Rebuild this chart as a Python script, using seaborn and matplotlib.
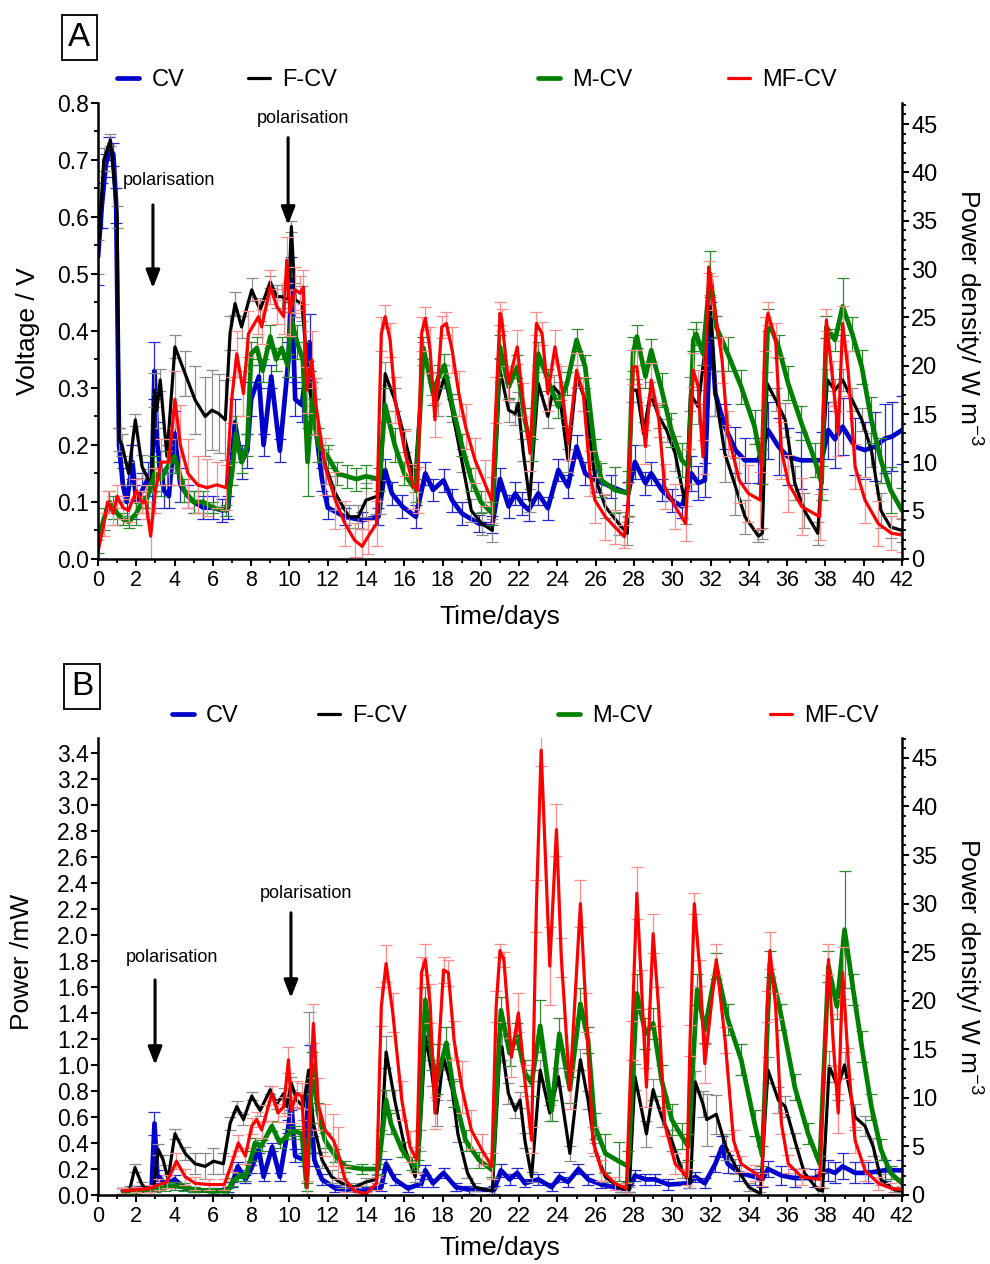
import matplotlib
matplotlib.use("Agg")
import matplotlib.pyplot as plt
import seaborn as sns
from matplotlib.ticker import MultipleLocator

# ---------------- Panel A : voltage (V) ----------------
cv_a_t = [0, 0.2, 0.4, 0.6, 0.8, 0.95, 1.1, 1.3, 1.5, 1.8,
          2.0, 2.3, 2.6, 2.8, 2.95, 3.1, 3.25, 3.45, 3.7, 4.0,
          4.3, 4.7, 5.0, 5.5, 6.0, 6.5, 6.8, 7.15, 7.5, 7.8,
          8.0, 8.4, 8.65, 9.05, 9.5, 9.95, 10.1, 10.3, 10.65, 11.05,
          11.3, 11.7, 12.0, 12.9, 13.8, 14.65, 15.0, 15.35, 15.9, 16.6,
          17.1, 17.5, 18.05, 18.5, 19.0, 19.9, 20.6, 21.0, 21.45, 21.8,
          22.15, 22.5, 23.0, 23.5, 24.05, 24.55, 25.0, 25.45, 26.0, 26.8,
          27.7, 28.05, 28.6, 28.9, 29.45, 30.0, 30.5, 31.0, 31.35, 31.7,
          32.0, 32.25, 32.75, 33.3, 33.8, 34.5, 35.0, 35.55, 36.05, 36.75,
          37.8, 38.15, 38.5, 38.9, 39.55, 40.05, 40.6, 41.1, 41.5, 42.0]
cv_a_v = [0.53, 0.62, 0.69, 0.72, 0.71, 0.62, 0.20, 0.13, 0.10, 0.17,
          0.10, 0.12, 0.14, 0.12, 0.33, 0.20, 0.16, 0.12, 0.11, 0.22,
          0.13, 0.11, 0.10, 0.09, 0.09, 0.085, 0.09, 0.24, 0.17, 0.19,
          0.28, 0.32, 0.20, 0.32, 0.19, 0.35, 0.49, 0.28, 0.27, 0.38,
          0.25, 0.14, 0.09, 0.074, 0.068, 0.074, 0.156, 0.115, 0.092, 0.074,
          0.15, 0.121, 0.138, 0.103, 0.08, 0.062, 0.06, 0.14, 0.092, 0.115,
          0.097, 0.086, 0.115, 0.089, 0.156, 0.127, 0.197, 0.15, 0.138, 0.127,
          0.115, 0.17, 0.133, 0.15, 0.121, 0.103, 0.092, 0.15, 0.133, 0.138,
          0.42, 0.29, 0.232, 0.191, 0.173, 0.173, 0.226, 0.197, 0.179, 0.173,
          0.173, 0.226, 0.21, 0.232, 0.197, 0.191, 0.197, 0.211, 0.215, 0.226]
cv_a_e = [0.05, 0.04, 0.02, 0.02, 0.02, 0.03, 0.03, 0.03, 0.03, 0.03,
          0.03, 0.03, 0.03, 0.03, 0.05, 0.04, 0.03, 0.03, 0.02, 0.04,
          0.03, 0.02, 0.02, 0.02, 0.02, 0.02, 0.02, 0.04, 0.03, 0.03,
          0.03, 0.02, 0.02, 0.02, 0.02, 0.03, 0.04, 0.03, 0.03, 0.05,
          0.03, 0.02, 0.02, 0.015, 0.015, 0.015, 0.02, 0.02, 0.02, 0.02,
          0.02, 0.02, 0.02, 0.02, 0.02, 0.015, 0.015, 0.02, 0.02, 0.02,
          0.02, 0.02, 0.02, 0.02, 0.02, 0.02, 0.02, 0.02, 0.02, 0.02,
          0.02, 0.03, 0.02, 0.02, 0.02, 0.02, 0.02, 0.03, 0.03, 0.03,
          0.03, 0.04, 0.04, 0.04, 0.04, 0.04, 0.05, 0.05, 0.05, 0.05,
          0.05, 0.05, 0.05, 0.05, 0.05, 0.05, 0.06, 0.06, 0.06, 0.06]

fcv_a_t = [0, 0.3, 0.65, 1.0, 1.1, 1.25, 1.6, 1.95, 2.3, 2.65,
           2.8, 2.95, 3.07, 3.25, 3.6, 4.02, 4.55, 5.07, 5.6, 5.95,
           6.3, 6.65, 6.9, 7.16, 7.5, 8.03, 8.47, 9.0, 9.34, 9.6,
           9.95, 10.1, 10.3, 10.65, 11.0, 11.3, 11.9, 12.4, 13.1, 13.6,
           14.0, 14.5, 14.75, 15.0, 15.5, 16.05, 16.55, 17.0, 17.45, 17.75,
           18.1, 18.5, 19.0, 19.5, 20.05, 20.6, 21.0, 21.45, 21.8, 21.95,
           22.2, 22.55, 23.0, 23.5, 23.8, 24.1, 24.55, 25.0, 25.45, 25.95,
           26.5, 27.2, 27.65, 27.9, 28.15, 28.5, 28.85, 29.3, 29.7, 30.15,
           30.7, 30.95, 31.35, 31.98, 32.25, 32.75, 33.3, 33.8, 34.5, 34.7,
           34.95, 35.4, 35.9, 36.4, 36.9, 37.6, 38.1, 38.5, 38.9, 39.4,
           39.9, 40.4, 40.9, 41.4, 42.0]
fcv_a_v = [0.53, 0.70, 0.735, 0.60, 0.21, 0.20, 0.15, 0.244, 0.162, 0.138,
           0.138, 0.296, 0.26, 0.314, 0.18, 0.372, 0.325, 0.279, 0.25, 0.261,
           0.255, 0.244, 0.396, 0.448, 0.407, 0.472, 0.437, 0.486, 0.46, 0.46,
           0.454, 0.583, 0.454, 0.448, 0.308, 0.25, 0.162, 0.115, 0.074, 0.074,
           0.103, 0.109, 0.109, 0.325, 0.279, 0.208, 0.138, 0.36, 0.308, 0.28,
           0.32, 0.26, 0.173, 0.085, 0.062, 0.05, 0.331, 0.261, 0.255, 0.273,
           0.191, 0.103, 0.308, 0.25, 0.302, 0.29, 0.173, 0.32, 0.279, 0.144,
           0.092, 0.062, 0.045, 0.296, 0.296, 0.22, 0.29, 0.25, 0.226, 0.185,
           0.092, 0.29, 0.267, 0.443, 0.29, 0.185, 0.127, 0.074, 0.04, 0.045,
           0.308, 0.279, 0.244, 0.133, 0.085, 0.045, 0.314, 0.296, 0.314, 0.279,
           0.244, 0.191, 0.085, 0.056, 0.05]
fcv_a_e = [0.03, 0.02, 0.01, 0.02, 0.02, 0.02, 0.02, 0.01, 0.02, 0.02,
           0.02, 0.03, 0.03, 0.02, 0.02, 0.02, 0.04, 0.06, 0.07, 0.07,
           0.07, 0.07, 0.03, 0.02, 0.02, 0.02, 0.02, 0.01, 0.02, 0.02,
           0.02, 0.01, 0.03, 0.03, 0.04, 0.03, 0.03, 0.03, 0.02, 0.02,
           0.03, 0.03, 0.03, 0.02, 0.02, 0.02, 0.02, 0.02, 0.02, 0.03,
           0.02, 0.02, 0.02, 0.02, 0.02, 0.02, 0.02, 0.02, 0.02, 0.02,
           0.02, 0.02, 0.02, 0.02, 0.02, 0.02, 0.02, 0.02, 0.02, 0.02,
           0.02, 0.02, 0.02, 0.02, 0.02, 0.02, 0.02, 0.02, 0.02, 0.03,
           0.03, 0.03, 0.03, 0.02, 0.04, 0.05, 0.05, 0.03, 0.01, 0.01,
           0.02, 0.02, 0.03, 0.03, 0.03, 0.02, 0.02, 0.02, 0.02, 0.02,
           0.02, 0.03, 0.03, 0.02, 0.02]

mcv_a_t = [0, 0.3, 0.6, 0.8, 1.0, 1.3, 1.6, 2.0, 2.3, 2.6,
           2.95, 3.3, 3.6, 4.0, 4.5, 5.0, 5.5, 6.0, 6.7, 7.0,
           7.2, 7.5, 7.8, 8.0, 8.3, 8.6, 9.0, 9.3, 9.6, 9.9,
           10.1, 10.4, 10.7, 10.95, 11.2, 11.5, 12.0, 12.5, 13.0, 13.5,
           14.0, 14.7, 15.0, 15.5, 16.0, 16.6, 17.0, 17.5, 17.8, 18.1,
           18.5, 19.0, 19.5, 20.0, 20.6, 21.0, 21.45, 21.9, 22.3, 22.65,
           23.0, 23.5, 24.05, 24.5, 25.0, 25.45, 25.95, 26.3, 27.0, 27.7,
           27.95, 28.15, 28.6, 28.9, 29.45, 29.95, 30.5, 30.85, 31.1, 31.25,
           31.6, 31.98, 32.3, 32.9, 33.6, 34.3, 34.7, 35.0, 35.55, 36.05,
           36.75, 37.45, 37.8, 38.05, 38.5, 38.9, 39.4, 39.9, 40.4, 40.9,
           41.4, 42.0]
mcv_a_v = [0.03, 0.07, 0.10, 0.09, 0.08, 0.07, 0.065, 0.08, 0.10, 0.11,
           0.15, 0.14, 0.16, 0.18, 0.12, 0.10, 0.10, 0.09, 0.085, 0.15,
           0.22, 0.17, 0.2, 0.36, 0.37, 0.33, 0.39, 0.35, 0.37, 0.34,
           0.42, 0.38, 0.35, 0.17, 0.28, 0.2, 0.18, 0.15, 0.145, 0.14,
           0.145, 0.14, 0.27, 0.2, 0.15, 0.12, 0.37, 0.29, 0.32, 0.34,
           0.27, 0.2, 0.14, 0.10, 0.08, 0.372, 0.302, 0.337, 0.244, 0.191,
           0.36, 0.314, 0.267, 0.308, 0.384, 0.337, 0.191, 0.138, 0.121, 0.115,
           0.36, 0.39, 0.32, 0.366, 0.296, 0.226, 0.173, 0.162, 0.384, 0.395,
           0.36, 0.5, 0.407, 0.36, 0.302, 0.232, 0.162, 0.419, 0.372, 0.308,
           0.238, 0.173, 0.133, 0.407, 0.384, 0.443, 0.395, 0.337, 0.244, 0.173,
           0.121, 0.085]
mcv_a_e = [0.02, 0.02, 0.02, 0.02, 0.02, 0.01, 0.01, 0.02, 0.02, 0.02,
           0.03, 0.03, 0.03, 0.03, 0.02, 0.02, 0.02, 0.01, 0.01, 0.02,
           0.03, 0.02, 0.02, 0.02, 0.02, 0.02, 0.02, 0.02, 0.02, 0.02,
           0.03, 0.03, 0.03, 0.06, 0.03, 0.03, 0.02, 0.02, 0.02, 0.02,
           0.02, 0.02, 0.03, 0.03, 0.02, 0.02, 0.02, 0.02, 0.02, 0.02,
           0.02, 0.02, 0.02, 0.02, 0.02, 0.02, 0.02, 0.02, 0.02, 0.02,
           0.02, 0.02, 0.02, 0.02, 0.02, 0.02, 0.02, 0.03, 0.04, 0.04,
           0.03, 0.02, 0.02, 0.02, 0.03, 0.03, 0.03, 0.03, 0.02, 0.02,
           0.02, 0.04, 0.02, 0.03, 0.03, 0.03, 0.03, 0.02, 0.02, 0.03,
           0.03, 0.03, 0.03, 0.02, 0.02, 0.05, 0.03, 0.03, 0.04, 0.04,
           0.04, 0.04]

mfcv_a_t = [0, 0.3, 0.5, 0.8, 1.0, 1.3, 1.6, 2.0, 2.3, 2.5,
            2.75, 3.0, 3.3, 3.7, 4.02, 4.3, 4.7, 5.2, 5.7, 6.2,
            6.7, 6.98, 7.25, 7.6, 7.86, 8.38, 8.55, 9.0, 9.34, 9.7,
            9.86, 10.03, 10.3, 10.56, 10.73, 10.9, 11.17, 11.4, 11.86, 12.4,
            12.9, 13.4, 13.8, 14.1, 14.55, 14.8, 15.0, 15.26, 15.52, 16.05,
            16.48, 16.7, 16.9, 17.1, 17.35, 17.6, 17.96, 18.2, 18.5, 18.85,
            19.2, 19.7, 20.2, 20.57, 20.8, 21.0, 21.1, 21.44, 21.9, 22.2,
            22.57, 22.9, 23.2, 23.5, 23.87, 24.2, 24.57, 25.0, 25.35, 25.7,
            25.96, 26.5, 27.0, 27.5, 27.7, 27.95, 28.15, 28.6, 28.9, 29.3,
            29.6, 30.15, 30.7, 30.84, 31.1, 31.35, 31.6, 31.9, 32.1, 32.6,
            32.9, 33.5, 33.97, 34.6, 34.85, 35.0, 35.4, 35.7, 36.06, 36.76,
            37.7, 38.05, 38.4, 38.67, 38.9, 39.2, 39.55, 40.07, 40.76, 41.45,
            42.0]
mfcv_a_v = [0.013, 0.06, 0.10, 0.08, 0.11, 0.09, 0.085, 0.12, 0.10, 0.10,
            0.04, 0.12, 0.17, 0.17, 0.28, 0.2, 0.15, 0.13, 0.125, 0.13,
            0.125, 0.279, 0.36, 0.29, 0.395, 0.425, 0.407, 0.477, 0.443, 0.425,
            0.524, 0.431, 0.472, 0.466, 0.477, 0.296, 0.349, 0.267, 0.162, 0.103,
            0.062, 0.033, 0.022, 0.039, 0.062, 0.395, 0.425, 0.384, 0.279, 0.185,
            0.127, 0.121, 0.395, 0.422, 0.366, 0.244, 0.407, 0.413, 0.366, 0.29,
            0.232, 0.173, 0.133, 0.103, 0.279, 0.431, 0.419, 0.308, 0.372, 0.279,
            0.185, 0.413, 0.395, 0.29, 0.372, 0.308, 0.203, 0.331, 0.29, 0.15,
            0.103, 0.074, 0.056, 0.039, 0.103, 0.337, 0.337, 0.197, 0.314, 0.244,
            0.127, 0.092, 0.062, 0.162, 0.331, 0.302, 0.179, 0.512, 0.466, 0.349,
            0.22, 0.138, 0.115, 0.103, 0.395, 0.431, 0.384, 0.191, 0.133, 0.092,
            0.074, 0.419, 0.308, 0.22, 0.413, 0.325, 0.162, 0.103, 0.062, 0.045,
            0.042]
mfcv_a_e = [0.02, 0.02, 0.02, 0.02, 0.02, 0.02, 0.02, 0.02, 0.02, 0.03,
            0.06, 0.04, 0.04, 0.04, 0.05, 0.07, 0.06, 0.05, 0.05, 0.04,
            0.04, 0.04, 0.04, 0.04, 0.04, 0.03, 0.03, 0.03, 0.03, 0.03,
            0.04, 0.04, 0.04, 0.03, 0.03, 0.04, 0.05, 0.05, 0.05, 0.05,
            0.04, 0.03, 0.03, 0.03, 0.04, 0.03, 0.02, 0.03, 0.04, 0.04,
            0.04, 0.04, 0.03, 0.02, 0.04, 0.03, 0.02, 0.02, 0.04, 0.04,
            0.04, 0.04, 0.04, 0.04, 0.04, 0.02, 0.02, 0.03, 0.03, 0.03,
            0.03, 0.02, 0.02, 0.03, 0.03, 0.03, 0.03, 0.03, 0.03, 0.04,
            0.04, 0.04, 0.03, 0.02, 0.03, 0.03, 0.03, 0.03, 0.03, 0.03,
            0.04, 0.04, 0.03, 0.03, 0.03, 0.03, 0.03, 0.01, 0.03, 0.04,
            0.04, 0.04, 0.05, 0.05, 0.03, 0.02, 0.03, 0.05, 0.05, 0.05,
            0.04, 0.02, 0.04, 0.04, 0.03, 0.04, 0.04, 0.04, 0.04, 0.03,
            0.03]

# ---------------- Panel B : power (mW) ----------------
cv_b_t = [1.3, 2.0, 2.5, 2.8, 2.95, 3.1, 3.3, 3.6, 4.0, 4.5,
          5.0, 6.0, 6.8, 7.0, 7.3, 7.7, 8.0, 8.4, 8.65, 9.1,
          9.5, 9.95, 10.1, 10.3, 10.75, 11.05, 11.3, 11.7, 12.4, 13.8,
          14.8, 15.05, 15.5, 16.2, 16.9, 17.1, 17.5, 18.05, 18.7, 19.4,
          20.7, 21.05, 21.5, 21.9, 22.3, 23.0, 23.7, 24.1, 24.55, 25.1,
          25.6, 26.3, 27.3, 27.75, 28.05, 28.6, 29.1, 29.8, 30.85, 31.2,
          31.7, 32.25, 32.6, 32.9, 33.5, 34.3, 34.7, 35.0, 35.7, 36.4,
          37.45, 38.15, 38.5, 38.9, 39.55, 40.2, 41.1, 42.0]
cv_b_p = [0.03, 0.05, 0.04, 0.05, 0.55, 0.15, 0.12, 0.08, 0.12, 0.06,
          0.04, 0.03, 0.04, 0.08, 0.22, 0.12, 0.2, 0.35, 0.14, 0.37,
          0.14, 0.53, 0.7, 0.3, 0.27, 0.85, 0.27, 0.12, 0.05, 0.03,
          0.06, 0.24, 0.12, 0.05, 0.09, 0.19, 0.09, 0.17, 0.06, 0.04,
          0.04, 0.19, 0.12, 0.17, 0.09, 0.12, 0.06, 0.14, 0.10, 0.2,
          0.12, 0.08, 0.05, 0.05, 0.15, 0.12, 0.12, 0.08, 0.09, 0.14,
          0.09, 0.24, 0.37, 0.24, 0.17, 0.14, 0.12, 0.2, 0.15, 0.13,
          0.13, 0.19, 0.17, 0.22, 0.17, 0.17, 0.19, 0.19]
cv_b_e = [0.02, 0.02, 0.02, 0.02, 0.09, 0.04, 0.03, 0.03, 0.03, 0.02,
          0.02, 0.02, 0.02, 0.02, 0.03, 0.03, 0.03, 0.03, 0.03, 0.03,
          0.03, 0.05, 0.05, 0.05, 0.05, 0.3, 0.05, 0.04, 0.03, 0.03,
          0.03, 0.04, 0.04, 0.03, 0.03, 0.04, 0.03, 0.04, 0.03, 0.03,
          0.03, 0.05, 0.04, 0.04, 0.03, 0.04, 0.03, 0.04, 0.04, 0.04,
          0.04, 0.03, 0.03, 0.03, 0.04, 0.04, 0.04, 0.04, 0.04, 0.04,
          0.04, 0.06, 0.08, 0.07, 0.06, 0.06, 0.06, 0.06, 0.07, 0.07,
          0.07, 0.08, 0.08, 0.1, 0.08, 0.08, 0.08, 0.08]

fcv_b_t = [1.3, 1.67, 1.93, 2.3, 2.63, 2.9, 3.15, 3.4, 3.66, 4.02,
           4.55, 5.07, 5.6, 6.03, 6.55, 6.9, 7.25, 7.6, 8.03, 8.47,
           9.0, 9.34, 9.7, 9.86, 10.1, 10.38, 10.73, 11.0, 11.25, 11.7,
           12.2, 12.73, 13.4, 14.0, 14.55, 14.8, 15.05, 15.5, 16.05, 16.57,
           16.8, 17.1, 17.44, 17.7, 18.05, 18.5, 18.8, 19.3, 19.7, 20.6,
           21.0, 21.1, 21.44, 21.8, 22.05, 22.3, 22.65, 23.1, 23.6, 24.05,
           24.65, 25.2, 25.6, 25.96, 26.5, 27.3, 27.75, 28.05, 28.65, 29.0,
           29.45, 29.97, 30.5, 30.95, 31.2, 31.6, 31.8, 32.3, 32.8, 33.3,
           34.0, 34.6, 35.0, 35.54, 35.9, 36.4, 36.9, 37.6, 37.85, 38.2,
           38.65, 39.0, 39.55, 40.07, 40.5, 40.9, 41.6, 42.0]
fcv_b_p = [0.03, 0.05, 0.21, 0.08, 0.04, 0.04, 0.35, 0.27, 0.12, 0.47,
           0.32, 0.24, 0.22, 0.26, 0.24, 0.55, 0.68, 0.58, 0.76, 0.65,
           0.81, 0.7, 0.78, 0.68, 0.86, 0.73, 0.68, 0.96, 0.55, 0.27,
           0.14, 0.09, 0.06, 0.1, 0.12, 0.42, 1.1, 0.73, 0.35, 0.14,
           0.42, 1.22, 0.94, 0.63, 1.06, 0.81, 0.47, 0.17, 0.06, 0.03,
           1.12, 1.14, 0.78, 0.65, 0.73, 0.42, 0.14, 0.96, 0.63, 0.91,
           0.32, 1.04, 0.73, 0.35, 0.14, 0.05, 0.04, 0.91, 0.47, 0.81,
           0.6, 0.42, 0.19, 0.09, 0.87, 0.7, 0.58, 0.62, 0.37, 0.22,
           0.06, 0.01, 0.96, 0.73, 0.68, 0.42, 0.17, 0.04, 0.03, 0.99,
           0.83, 1.0, 0.6, 0.53, 0.37, 0.12, 0.04, 0.03]
fcv_b_e = [0.02, 0.02, 0.03, 0.02, 0.02, 0.02, 0.04, 0.04, 0.03, 0.04,
           0.05, 0.08, 0.1, 0.1, 0.08, 0.05, 0.04, 0.04, 0.03, 0.04,
           0.03, 0.04, 0.04, 0.05, 0.05, 0.06, 0.1, 0.45, 0.1, 0.06,
           0.05, 0.04, 0.03, 0.03, 0.03, 0.08, 0.12, 0.08, 0.06, 0.04,
           0.08, 0.1, 0.1, 0.1, 0.1, 0.08, 0.06, 0.04, 0.03, 0.02,
           0.1, 0.1, 0.08, 0.06, 0.06, 0.06, 0.04, 0.08, 0.06, 0.07,
           0.06, 0.08, 0.07, 0.05, 0.04, 0.03, 0.02, 0.1, 0.1, 0.08,
           0.08, 0.08, 0.06, 0.04, 0.08, 0.1, 0.2, 0.15, 0.1, 0.06,
           0.03, 0.01, 0.1, 0.1, 0.08, 0.06, 0.04, 0.03, 0.02, 0.12,
           0.1, 0.1, 0.1, 0.08, 0.07, 0.04, 0.02, 0.02]

mcv_b_t = [1.3, 2.0, 3.0, 3.5, 4.0, 4.5, 5.0, 6.0, 6.8, 7.0,
           7.33, 7.7, 8.03, 8.2, 8.55, 9.08, 9.5, 9.95, 10.3, 10.65,
           10.9, 11.2, 11.5, 11.86, 12.4, 12.9, 13.8, 14.65, 15.05, 15.3,
           15.87, 16.4, 16.7, 17.1, 17.44, 17.7, 18.2, 18.6, 19.2, 19.9,
           20.6, 21.05, 21.5, 21.9, 22.3, 22.65, 23.1, 23.7, 24.1, 24.65,
           25.2, 25.6, 25.96, 26.5, 27.2, 27.7, 28.15, 28.6, 29.0, 29.45,
           29.97, 30.5, 30.84, 31.3, 31.7, 32.3, 32.9, 33.6, 34.3, 34.7,
           35.1, 35.7, 36.4, 37.1, 37.7, 38.16, 38.6, 39.0, 39.45, 39.9,
           40.4, 40.9, 41.4, 42.0]
mcv_b_p = [0.03, 0.03, 0.04, 0.06, 0.07, 0.06, 0.04, 0.03, 0.03, 0.1,
           0.14, 0.14, 0.3, 0.4, 0.38, 0.53, 0.4, 0.47, 0.49, 0.47,
           0.06, 1.0, 0.63, 0.42, 0.3, 0.22, 0.2, 0.2, 0.73, 0.55,
           0.35, 0.24, 0.22, 1.5, 1.06, 0.88, 1.17, 0.78, 0.42, 0.27,
           0.19, 1.42, 1.09, 1.22, 0.94, 0.86, 1.3, 0.65, 1.24, 0.81,
           1.47, 1.19, 0.53, 0.32, 0.26, 0.22, 1.55, 1.24, 1.32, 0.88,
           0.58, 0.45, 0.37, 1.58, 1.27, 1.76, 1.35, 1.04, 0.55, 0.3,
           1.78, 1.37, 0.83, 0.47, 0.24, 1.76, 1.45, 2.04, 1.58, 1.14,
           0.68, 0.35, 0.17, 0.09]
mcv_b_e = [0.02, 0.02, 0.02, 0.03, 0.03, 0.03, 0.02, 0.02, 0.02, 0.03,
           0.03, 0.03, 0.04, 0.04, 0.04, 0.04, 0.04, 0.04, 0.04, 0.04,
           0.03, 0.1, 0.08, 0.06, 0.05, 0.04, 0.04, 0.04, 0.08, 0.08,
           0.06, 0.05, 0.05, 0.1, 0.1, 0.1, 0.12, 0.1, 0.08, 0.06,
           0.05, 0.1, 0.1, 0.1, 0.1, 0.1, 0.2, 0.08, 0.12, 0.1,
           0.12, 0.1, 0.1, 0.15, 0.15, 0.12, 0.15, 0.12, 0.12, 0.12,
           0.12, 0.1, 0.1, 0.12, 0.1, 0.1, 0.12, 0.12, 0.1, 0.08,
           0.1, 0.1, 0.1, 0.08, 0.06, 0.12, 0.1, 0.45, 0.12, 0.12,
           0.1, 0.08, 0.05, 0.04]

mfcv_b_t = [1.3, 2.0, 2.7, 3.2, 3.6, 4.1, 4.55, 5.07, 5.8, 6.6,
            6.98, 7.33, 7.7, 8.03, 8.29, 8.55, 8.8, 9.08, 9.4, 9.7,
            9.95, 10.1, 10.38, 10.65, 10.9, 11.25, 11.5, 11.86, 12.3, 12.55,
            12.9, 13.4, 14.0, 14.55, 14.8, 15.05, 15.4, 15.87, 16.3, 16.65,
            16.9, 17.1, 17.35, 17.6, 18.05, 18.3, 18.6, 19.0, 19.5, 20.04,
            20.57, 20.8, 21.0, 21.2, 21.6, 21.96, 22.3, 22.65, 22.9, 23.15,
            23.6, 23.95, 24.2, 24.65, 25.2, 25.5, 25.85, 26.3, 27.0, 27.6,
            27.88, 28.15, 28.4, 28.65, 29.0, 29.28, 29.6, 30.15, 30.76, 30.93,
            31.15, 31.45, 31.7, 32.3, 32.76, 33.2, 33.6, 34.3, 34.7, 34.95,
            35.1, 35.4, 35.7, 36.06, 36.76, 37.7, 38.16, 38.4, 38.67, 38.9,
            39.2, 39.55, 40.07, 40.76, 41.45, 42.0]
mfcv_b_p = [0.03, 0.04, 0.05, 0.08, 0.1, 0.26, 0.14, 0.09, 0.08, 0.08,
            0.24, 0.4, 0.3, 0.53, 0.58, 0.5, 0.63, 0.78, 0.63, 0.68,
            1.04, 0.65, 0.78, 0.76, 0.06, 1.32, 0.7, 0.5, 0.42, 0.32,
            0.12, 0.03, 0.01, 0.09, 1.45, 1.78, 1.4, 0.73, 0.37, 0.27,
            1.71, 1.81, 1.47, 0.63, 1.73, 1.71, 1.19, 0.83, 0.5, 0.35,
            0.22, 1.45, 1.88, 1.81, 1.06, 1.4, 0.88, 0.42, 2.22, 3.42,
            1.76, 2.81, 1.83, 0.81, 2.24, 1.4, 0.42, 0.19, 0.09, 0.05,
            1.19, 2.32, 1.58, 0.83, 2.01, 1.45, 0.55, 0.24, 0.14, 1.19,
            2.24, 1.71, 1.01, 1.81, 1.19, 0.42, 0.24, 0.17, 0.12, 1.45,
            1.88, 1.45, 0.55, 0.24, 0.14, 0.12, 1.81, 1.19, 0.63, 1.71,
            1.01, 0.42, 0.19, 0.09, 0.05, 0.04]
mfcv_b_e = [0.02, 0.02, 0.03, 0.04, 0.05, 0.06, 0.06, 0.05, 0.04, 0.04,
            0.06, 0.06, 0.06, 0.06, 0.06, 0.06, 0.06, 0.06, 0.07, 0.07,
            0.1, 0.1, 0.1, 0.1, 0.05, 0.15, 0.2, 0.2, 0.2, 0.2,
            0.1, 0.03, 0.01, 0.05, 0.15, 0.14, 0.15, 0.15, 0.12, 0.1,
            0.12, 0.12, 0.15, 0.12, 0.1, 0.1, 0.15, 0.2, 0.15, 0.12,
            0.1, 0.12, 0.05, 0.06, 0.15, 0.15, 0.12, 0.1, 0.2, 0.12,
            0.3, 0.2, 0.15, 0.15, 0.18, 0.15, 0.1, 0.08, 0.05, 0.04,
            0.15, 0.2, 0.15, 0.15, 0.15, 0.15, 0.1, 0.08, 0.06, 0.12,
            0.08, 0.1, 0.15, 0.12, 0.1, 0.08, 0.06, 0.06, 0.05, 0.12,
            0.14, 0.1, 0.08, 0.07, 0.06, 0.06, 0.12, 0.2, 0.15, 0.2,
            0.12, 0.1, 0.08, 0.05, 0.04, 0.03]

series_names = ["CV", "F-CV", "M-CV", "MF-CV"]
line_colors = ["#0000CC", "#000000", "#008000", "#FF0000"]
err_colors = ["#2828D0", "#8C8C8C", "#2E8B2E", "#FF8C8C"]
line_widths = [3.4, 2.3, 3.4, 2.3]

# ---------------- style ----------------
sns.set_theme(style="ticks")
plt.rcParams["font.family"] = ["Liberation Sans", "DejaVu Sans"]
plt.rcParams["mathtext.fontset"] = "custom"
plt.rcParams["mathtext.rm"] = "Liberation Sans"
plt.rcParams["mathtext.it"] = "Liberation Sans:italic"
for key in ["text.color", "axes.labelcolor", "xtick.color", "ytick.color",
            "axes.edgecolor"]:
    plt.rcParams[key] = "black"

fig = plt.figure(figsize=(9.9, 12.64), dpi=100)
axA = fig.add_axes([0.0990, 0.5578, 0.8121, 0.3608])
axB = fig.add_axes([0.0990, 0.0546, 0.8121, 0.3616])


def draw(ax, data):
    handles = []
    for (t, y, e), name, lc, ec, lw in zip(data, series_names, line_colors,
                                           err_colors, line_widths):
        ax.errorbar(t, y, yerr=e, fmt="none", ecolor=ec, elinewidth=0.9,
                    capsize=4.5, capthick=0.9)
        sns.lineplot(x=t, y=y, ax=ax, color=lc, lw=lw, sort=False,
                     estimator=None, legend=False, label=name)
        handles.append(ax.get_lines()[-1])
    return handles


def style_axes(ax, ymax, ymaj, ymin, rmax):
    ax.set_xlim(0, 42)
    ax.set_ylim(0, ymax)
    ax.xaxis.set_major_locator(MultipleLocator(2))
    ax.xaxis.set_minor_locator(MultipleLocator(1))
    ax.yaxis.set_major_locator(MultipleLocator(ymaj))
    if ymin:
        ax.yaxis.set_minor_locator(MultipleLocator(ymin))
    for s in ["top", "right"]:
        ax.spines[s].set_visible(False)
    for s in ["left", "bottom"]:
        ax.spines[s].set_linewidth(1.8)
        ax.spines[s].set_color("black")
    ax.tick_params(axis="both", which="major", direction="out", length=5,
                   width=1.5, color="black", labelcolor="black")
    ax.tick_params(axis="both", which="minor", direction="out", length=3,
                   width=1.3, color="black")
    ax.tick_params(axis="y", labelsize=16.5, pad=1.5)
    ax.tick_params(axis="x", labelsize=15.5, pad=3)
    ax.set_xlabel("Time/days", fontsize=19, color="black")
    ax2 = ax.twinx()
    ax2.set_ylim(0, rmax)
    ax2.yaxis.set_major_locator(MultipleLocator(5))
    ax2.yaxis.set_minor_locator(MultipleLocator(1))
    for s in ["top", "left", "bottom"]:
        ax2.spines[s].set_visible(False)
    ax2.spines["right"].set_linewidth(1.8)
    ax2.spines["right"].set_color("black")
    ax2.tick_params(axis="y", which="major", direction="out", length=5,
                    width=1.5, color="black", labelcolor="black",
                    labelsize=17, pad=1.5)
    ax2.tick_params(axis="y", which="minor", direction="out", length=3,
                    width=1.3, color="black")
    ax2.set_ylabel(r"Power density/ W m$^{-3}$", fontsize=19, rotation=270,
                   va="bottom", color="black")
    return ax2


# ---------------- Panel A ----------------
hA = draw(axA, [(cv_a_t, cv_a_v, cv_a_e), (fcv_a_t, fcv_a_v, fcv_a_e),
                (mcv_a_t, mcv_a_v, mcv_a_e), (mfcv_a_t, mfcv_a_v, mfcv_a_e)])
axA2 = style_axes(axA, 0.8, 0.1, 0.05, 47.2)
axA.yaxis.set_major_formatter(matplotlib.ticker.FormatStrFormatter("%.1f"))
axA.set_ylabel("Voltage / V", fontsize=19, color="black")
axA.yaxis.set_label_coords(-0.072, 0.5)
axA.xaxis.set_label_coords(0.5, -0.1)
axA2.yaxis.set_label_coords(1.062, 0.53)

# ---------------- Panel B ----------------
hB = draw(axB, [(cv_b_t, cv_b_p, cv_b_e), (fcv_b_t, fcv_b_p, fcv_b_e),
                (mcv_b_t, mcv_b_p, mcv_b_e), (mfcv_b_t, mfcv_b_p, mfcv_b_e)])
axB2 = style_axes(axB, 3.515, 0.2, None, 47.06)
axB.yaxis.set_major_formatter(matplotlib.ticker.FormatStrFormatter("%.1f"))
axB.set_ylim(0, 3.515)
axB.set_yticks([round(0.2 * i, 1) for i in range(18)])
axB.set_ylabel("Power /mW", fontsize=19, color="black")
axB.yaxis.set_label_coords(-0.080, 0.51)
axB.xaxis.set_label_coords(0.5, -0.09)
axB2.yaxis.set_label_coords(1.062, 0.5)

# ---------------- legends (one per entry, spaced as in the figure) ----------------
legA_x = [0.1182, 0.2505, 0.5434, 0.7354]
legB_x = [0.1737, 0.3212, 0.5636, 0.7778]
for handles, xs, yy in [(hA, legA_x, 0.9367), (hB, legB_x, 0.4335)]:
    for h, name, x in zip(handles, series_names, xs):
        fig.legend(handles=[h], labels=[name], loc="center left",
                   bbox_to_anchor=(x, yy), frameon=False, fontsize=17,
                   handlelength=0.95, handletextpad=0.5, borderpad=0,
                   borderaxespad=0, labelcolor="black")

# ---------------- annotations ----------------
arrow_kw = dict(arrowstyle="-|>,head_length=0.9,head_width=0.35", lw=2.2,
                color="black", shrinkA=0, shrinkB=0)
axA.text(3.71, 0.663, "polarisation", ha="center", va="center", fontsize=13)
axA.annotate("", xy=(2.87, 0.475), xytext=(2.87, 0.621), arrowprops=arrow_kw)
axA.text(10.71, 0.772, "polarisation", ha="center", va="center", fontsize=13)
axA.annotate("", xy=(9.93, 0.586), xytext=(9.93, 0.739), arrowprops=arrow_kw)
axB.text(3.87, 1.83, "polarisation", ha="center", va="center", fontsize=13)
axB.annotate("", xy=(2.98, 1.0), xytext=(2.98, 1.654), arrowprops=arrow_kw)
axB.text(10.87, 2.32, "polarisation", ha="center", va="center", fontsize=13)
axB.annotate("", xy=(10.08, 1.515), xytext=(10.08, 2.17), arrowprops=arrow_kw)

# ---------------- panel letters ----------------
box = dict(boxstyle="square,pad=0.2", fc="white", ec="black", lw=1.3)
fig.text(0.0803, 0.9703, "A", fontsize=24, ha="center", va="center", bbox=box)
fig.text(0.0828, 0.4569, "B", fontsize=24, ha="center", va="center", bbox=box)

fig.savefig("out.png", dpi=100)
